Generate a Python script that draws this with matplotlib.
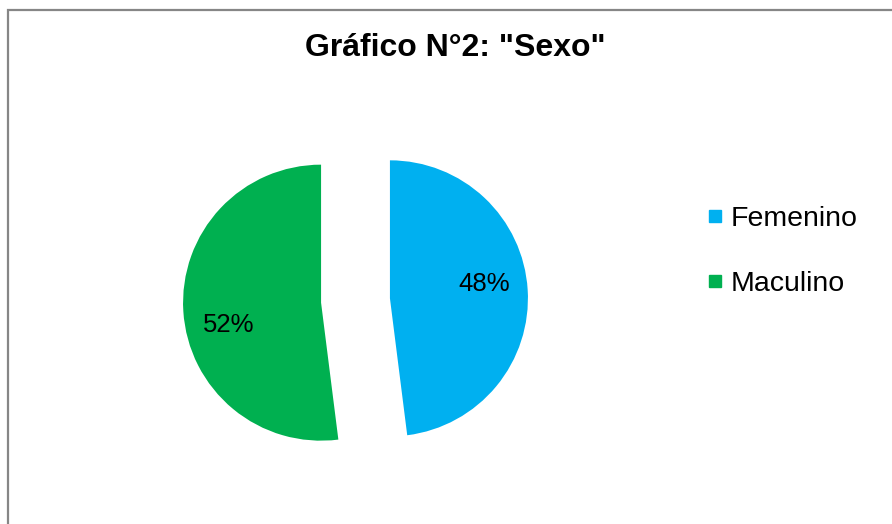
import matplotlib

matplotlib.use("Agg")

import numpy as np
import matplotlib.pyplot as plt
from matplotlib.lines import Line2D
from matplotlib.patches import Rectangle

plt.rcParams["font.family"] = ["Liberation Sans", "DejaVu Sans"]

# data
labels = ["Femenino", "Maculino"]
values = [48, 52]
colors = ["#00B0F0", "#00B050"]
title = 'Gráfico N°2: "Sexo"'

W, H = 892, 524
fig = plt.figure(figsize=(W / 100, H / 100), dpi=100)

# chart area border (only top and left visible in the crop)
fig.patches.append(Rectangle((7.5 / W, -0.1), 1.2, 1 - 10 / H + 0.1, transform=fig.transFigure,
                             fill=False, ec="#868686", lw=1.6))

# pie axes: square, centred on the unexploded pie centre
R = 138.0
lim = 1.6
side = 2 * lim * R
cx, cy = 355.5, H - 300.5
ax = fig.add_axes([(cx - side / 2) / W, (cy - side / 2) / H, side / W, side / H])

wedges, _ = ax.pie(values, colors=colors, startangle=90, counterclock=False,
                   explode=[0.25, 0.25], radius=1.0, frame=True)
ax.set_xlim(-lim, lim)
ax.set_ylim(-lim, lim)
ax.set_aspect("equal")
ax.axis("off")

# percentage labels, nudged off the mid-angle like Excel's placement
nudge = [5, 10]
for w, v, n in zip(wedges, values, nudge):
    mid = np.deg2rad((w.theta1 + w.theta2) / 2)
    ang = mid + np.deg2rad(n)
    ox, oy = 0.25 * np.cos(mid), 0.25 * np.sin(mid)
    ax.text(ox + 0.69 * np.cos(ang), oy + 0.69 * np.sin(ang), f"{v}%",
            ha="center", va="center", fontsize=18.5, color="black")

fig.text(455 / W, 1 - 48 / H, title, ha="center", va="center", fontsize=23, fontweight="bold")

handles = [Line2D([], [], ls="none", marker="s", markersize=9, mfc=c, mec=c) for c in colors]
fig.legend(handles, labels, loc="center left", bbox_to_anchor=(706 / W, 1 - 251.5 / H),
           frameon=False, fontsize=20.5, handlelength=0.6, handletextpad=0.25,
           labelspacing=1.36, borderpad=0, borderaxespad=0)

fig.savefig("out.png", dpi=100)
